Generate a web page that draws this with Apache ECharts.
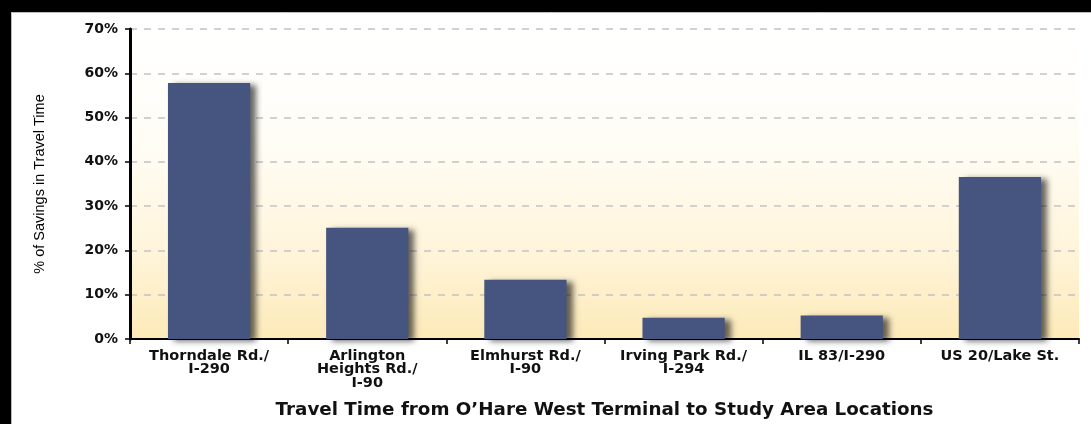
<!DOCTYPE html>
<html lang="en">
<head>
    <meta charset="UTF-8">
    <title>Savings in Travel Time</title>
    <script src="https://cdn.jsdelivr.net/npm/echarts@6/dist/echarts.min.js"></script>
    <style>
        html, body { margin: 0; padding: 0; background: #fff; }
    </style>
</head>
<body>
    <div id="chart" style="width: 1091px; height: 424px;"></div>

    <script>
        var locais = [
            'Thorndale Rd./\nI-290',
            'Arlington\nHeights Rd./\nI-90',
            'Elmhurst Rd./\nI-90',
            'Irving Park Rd./\nI-294',
            'IL 83/I-290',
            'US 20/Lake St.'
        ];
        var economia = [57.8, 25.1, 13.4, 4.8, 5.3, 36.6];
        var ticksY = [0, 10, 20, 30, 40, 50, 60, 70];

        var chart = echarts.init(document.getElementById('chart'));

        var fonteNegrito = 'DejaVu Sans';

        chart.setOption({
            backgroundColor: '#ffffff',
            animation: false,
            graphic: [
                { type: 'rect', shape: { x: 0, y: 0, width: 1091, height: 12 }, style: { fill: '#000' } },
                { type: 'rect', shape: { x: 0, y: 0, width: 11, height: 424 }, style: { fill: '#000' } },
                { type: 'line', shape: { x1: 12, y1: 12.5, x2: 1091, y2: 12.5 }, style: { stroke: '#bdbdbd', lineWidth: 1 } },
                { type: 'line', shape: { x1: 11.5, y1: 12, x2: 11.5, y2: 424 }, style: { stroke: '#bdbdbd', lineWidth: 1 } }
            ],
            grid: {
                left: 130,
                right: 12,
                top: 29,
                bottom: 84,
                show: true,
                borderWidth: 0,
                backgroundColor: {
                    type: 'linear', x: 0, y: 0, x2: 0, y2: 1,
                    colorStops: [
                        { offset: 0, color: '#ffffff' },
                        { offset: 0.35, color: '#fffdf6' },
                        { offset: 0.7, color: '#fff5dc' },
                        { offset: 1, color: '#fdeab8' }
                    ]
                }
            },
            xAxis: {
                type: 'category',
                data: locais,
                name: 'Travel Time from O\u2019Hare West Terminal to Study Area Locations',
                nameLocation: 'middle',
                nameGap: 62,
                nameTextStyle: {
                    fontFamily: fonteNegrito,
                    fontWeight: 'bold',
                    fontSize: 18.3,
                    color: '#111'
                },
                axisLine: { lineStyle: { color: '#000', width: 2 } },
                axisTick: { show: true, length: 5, lineStyle: { color: '#000', width: 1.5 } },
                axisLabel: {
                    interval: 0,
                    margin: 10,
                    fontFamily: fonteNegrito,
                    fontWeight: 'bold',
                    fontSize: 14.5,
                    lineHeight: 13.5,
                    color: '#111'
                }
            },
            yAxis: {
                type: 'value',
                min: 0,
                max: 70,
                interval: 10,
                name: '% of Savings in Travel Time',
                nameLocation: 'middle',
                nameGap: 83,
                nameTextStyle: {
                    fontFamily: 'Liberation Sans',
                    fontSize: 14.5,
                    color: '#000'
                },
                axisLine: { show: true, lineStyle: { color: '#000', width: 3 } },
                axisTick: { show: true, length: 5, lineStyle: { color: '#000', width: 1.5 } },
                axisLabel: {
                    margin: 12,
                    fontFamily: fonteNegrito,
                    fontWeight: 'bold',
                    fontSize: 14,
                    color: '#111',
                    formatter: function (v) {
                        return ticksY.indexOf(v) >= 0 ? v + '%' : '';
                    }
                },
                splitLine: {
                    lineStyle: { color: '#c2c2c2', width: 1.5, type: [7, 7] }
                }
            },
            series: [{
                type: 'bar',
                data: economia,
                barWidth: '52%',
                itemStyle: {
                    color: '#46557f',
                    shadowColor: 'rgba(0, 0, 0, 0.6)',
                    shadowBlur: 6,
                    shadowOffsetX: 6,
                    shadowOffsetY: 2
                }
            }]
        });
    </script>
</body>
</html>
